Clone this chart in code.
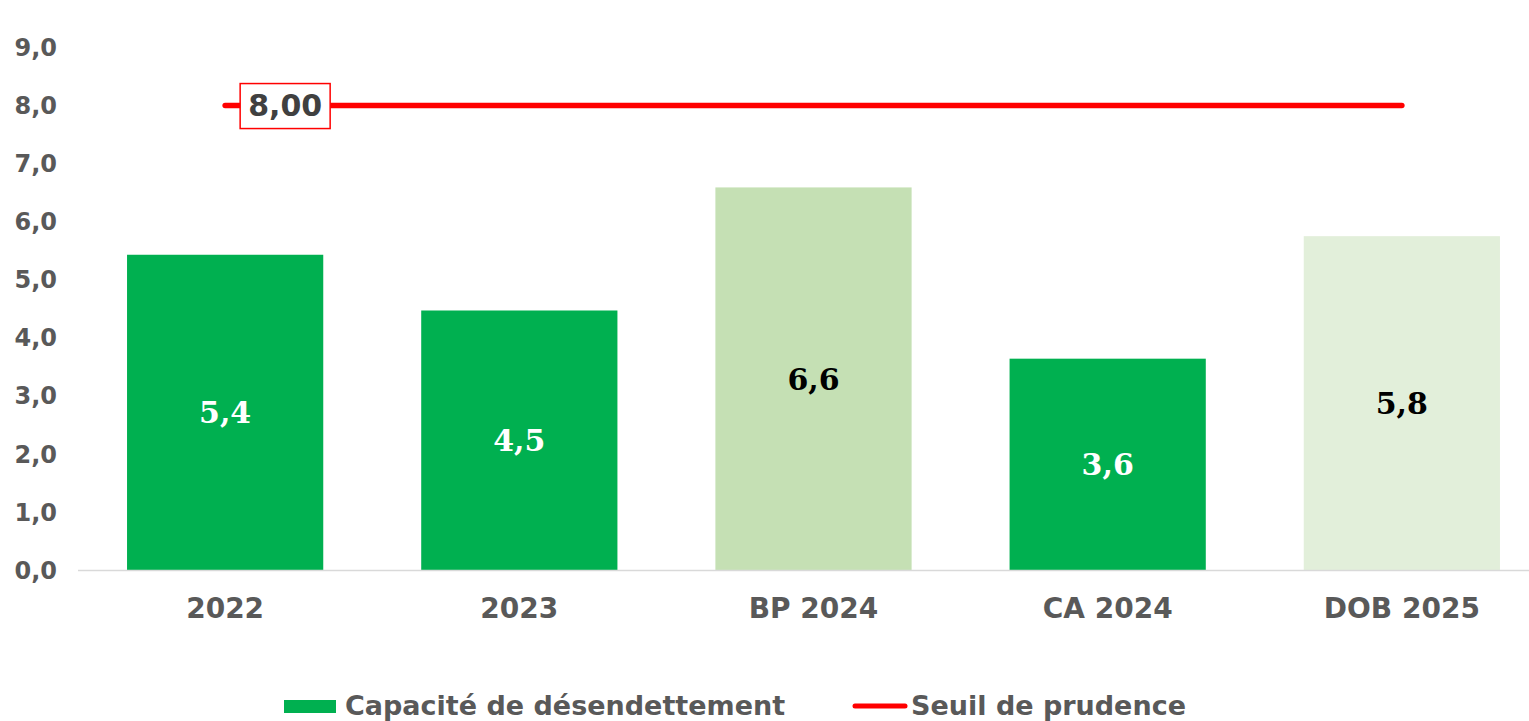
<!DOCTYPE html>
<html>
<head>
<meta charset="utf-8">
<script src="https://cdn.jsdelivr.net/npm/d3@7"></script>
<style>
  body { margin: 0; background: #fff; }
  svg { display: block; }
</style>
</head>
<body>
<div id="chart"></div>
<script>
// chart data
var categories = ['2022', '2023', 'BP 2024', 'CA 2024', 'DOB 2025']
var values = [5.43, 4.47, 6.59, 3.64, 5.75]
var labels = ['5,4', '4,5', '6,6', '3,6', '5,8']
var barColors = ['#00B050', '#00B050', '#C5E0B4', '#00B050', '#E2EFDA']
var labelColors = ['#ffffff', '#ffffff', '#000000', '#ffffff', '#000000']
var threshold = 8
var yTicks = [0, 1, 2, 3, 4, 5, 6, 7, 8, 9]
var legendNames = ['Capacité de désendettement', 'Seuil de prudence']

var width = 1529
var height = 721

var svg = d3
  .select('#chart')
  .append('svg')
  .attr('width', width)
  .attr('height', height)

var xScale = d3
  .scaleBand()
  .domain(categories)
  .range([78, 1549])
  .paddingInner(0.333)
  .paddingOuter(0.1667)

var yScale = d3
  .scaleLinear()
  .domain([0, 9])
  .range([570, 47.5])

var fmt = d => d.toFixed(1).replace('.', ',')

// y tick labels (no axis line)
svg
  .selectAll('.y-label')
  .data(yTicks)
  .enter()
  .append('text')
  .attr('class', 'y-label')
  .attr('x', 57)
  .attr('y', d => yScale(d))
  .attr('dy', '0.36em')
  .attr('text-anchor', 'end')
  .attr('font-family', 'DejaVu Sans, Verdana, sans-serif')
  .attr('font-weight', 'bold')
  .attr('font-size', 24)
  .attr('fill', '#595959')
  .text(fmt)

// bars
svg
  .selectAll('.bar')
  .data(values)
  .enter()
  .append('rect')
  .attr('class', 'bar')
  .attr('x', (d, i) => xScale(categories[i]))
  .attr('y', d => yScale(d))
  .attr('width', xScale.bandwidth())
  .attr('height', d => yScale(0) - yScale(d))
  .attr('fill', (d, i) => barColors[i])

// x axis line
svg
  .append('line')
  .attr('x1', xScale.range()[0])
  .attr('x2', xScale.range()[1])
  .attr('y1', yScale(0) + 0.5)
  .attr('y2', yScale(0) + 0.5)
  .attr('stroke', '#D9D9D9')
  .attr('stroke-width', 1.5)

// category labels
svg
  .selectAll('.x-label')
  .data(categories)
  .enter()
  .append('text')
  .attr('class', 'x-label')
  .attr('x', d => xScale(d) + xScale.bandwidth() / 2)
  .attr('y', 618)
  .attr('text-anchor', 'middle')
  .attr('font-family', 'DejaVu Sans, Verdana, sans-serif')
  .attr('font-weight', 'bold')
  .attr('font-size', 28)
  .attr('fill', '#595959')
  .text(d => d)

// value labels in the middle of bars
svg
  .selectAll('.value-label')
  .data(values)
  .enter()
  .append('text')
  .attr('class', 'value-label')
  .attr('x', (d, i) => xScale(categories[i]) + xScale.bandwidth() / 2)
  .attr('y', d => (yScale(d) + yScale(0)) / 2)
  .attr('dy', '0.36em')
  .attr('text-anchor', 'middle')
  .attr('font-family', 'DejaVu Serif, Cambria, serif')
  .attr('font-weight', 'bold')
  .attr('font-size', 30)
  .attr('fill', (d, i) => labelColors[i])
  .text((d, i) => labels[i])

// threshold line
var xFirst = xScale(categories[0]) + xScale.bandwidth() / 2
var xLast = xScale(categories[categories.length - 1]) + xScale.bandwidth() / 2

svg
  .append('line')
  .attr('x1', xFirst)
  .attr('x2', xLast)
  .attr('y1', yScale(threshold))
  .attr('y2', yScale(threshold))
  .attr('stroke', '#FF0000')
  .attr('stroke-width', 5.5)
  .attr('stroke-linecap', 'round')

// threshold label box
var boxX = xFirst + 15
svg
  .append('rect')
  .attr('x', boxX)
  .attr('y', yScale(threshold) - 22)
  .attr('width', 90)
  .attr('height', 45)
  .attr('fill', '#ffffff')
  .attr('stroke', '#FF0000')
  .attr('stroke-width', 1.5)

svg
  .append('text')
  .attr('x', boxX + 45)
  .attr('y', yScale(threshold))
  .attr('dy', '0.36em')
  .attr('text-anchor', 'middle')
  .attr('font-family', 'DejaVu Sans, Verdana, sans-serif')
  .attr('font-weight', 'bold')
  .attr('font-size', 30)
  .attr('fill', '#404040')
  .text(threshold.toFixed(2).replace('.', ','))

// legend
var legend = svg.append('g')

legend
  .append('rect')
  .attr('x', 284)
  .attr('y', 700)
  .attr('width', 52)
  .attr('height', 13)
  .attr('fill', '#00B050')

legend
  .append('text')
  .attr('x', 345)
  .attr('y', 715)
  .attr('font-family', 'DejaVu Sans, Verdana, sans-serif')
  .attr('font-weight', 'bold')
  .attr('font-size', 27)
  .attr('fill', '#595959')
  .text(legendNames[0])

legend
  .append('line')
  .attr('x1', 855)
  .attr('x2', 905)
  .attr('y1', 706)
  .attr('y2', 706)
  .attr('stroke', '#FF0000')
  .attr('stroke-width', 5)
  .attr('stroke-linecap', 'round')

legend
  .append('text')
  .attr('x', 911)
  .attr('y', 715)
  .attr('font-family', 'DejaVu Sans, Verdana, sans-serif')
  .attr('font-weight', 'bold')
  .attr('font-size', 27)
  .attr('fill', '#595959')
  .text(legendNames[1])
</script>
</body>
</html>
